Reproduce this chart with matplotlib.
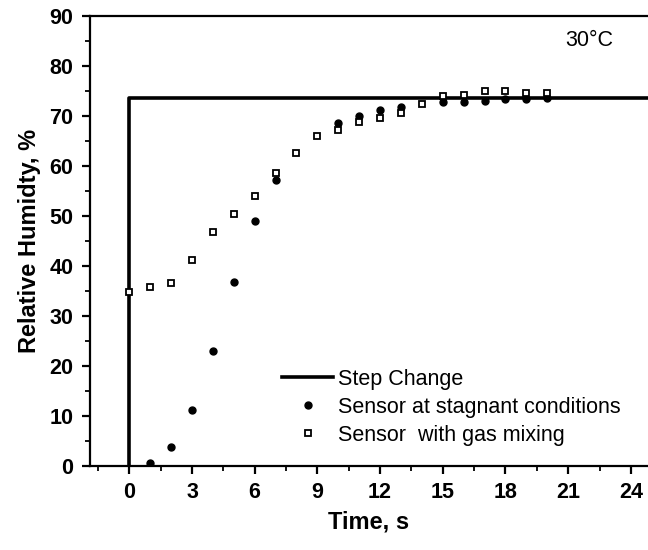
import numpy as np
import matplotlib
matplotlib.use("Agg")
import matplotlib.pyplot as plt
from matplotlib.ticker import MultipleLocator

plt.rcParams['font.family'] = ['Liberation Sans', 'DejaVu Sans']

# Step change input
step_t = [0, 0, 30]
step_rh = [0, 73.5, 73.5]

# Sensor at stagnant conditions (points hidden under other markers left out)
stag_t = [1, 2, 3, 4, 5, 6, 7, 10, 11, 12, 13, 15, 16, 17, 18, 19, 20]
stag_rh = [0.6, 3.8, 11.1, 22.9, 36.7, 49.0, 57.2, 68.5, 70.0, 71.1, 71.8,
           72.7, 72.8, 73.0, 73.3, 73.4, 73.5]

# Sensor with gas mixing
mix_t = [0, 1, 2, 3, 4, 5, 6, 7, 8, 9, 10, 11, 12, 13, 14, 15, 16, 17, 18, 19, 20]
mix_rh = [34.7, 35.7, 36.6, 41.1, 46.8, 50.4, 53.9, 58.5, 62.5, 65.9, 67.1,
          68.7, 69.5, 70.5, 72.4, 74.0, 74.1, 74.9, 74.9, 74.6, 74.6]

x_ticks = [0, 3, 6, 9, 12, 15, 18, 21, 24]
y_ticks = [0, 10, 20, 30, 40, 50, 60, 70, 80, 90]

fig = plt.figure(figsize=(6.48, 5.5), dpi=100)
ax = fig.add_axes([90 / 648, 84.3 / 550, 558 / 648, 450 / 550])

ax.plot(step_t, step_rh, color='black', lw=2.6, label='Step Change')
ax.plot(stag_t, stag_rh, 'o', color='black', ms=5,
        label='Sensor at stagnant conditions')
ax.plot(mix_t, mix_rh, 's', mfc='white', mec='black', mew=1.3, ms=4.5,
        label='Sensor  with gas mixing')

ax.set_xlim(-1.88, 24.82)
ax.set_ylim(0, 90)
ax.set_xticks(x_ticks)
ax.set_yticks(y_ticks)
ax.xaxis.set_minor_locator(MultipleLocator(1.5))
ax.yaxis.set_minor_locator(MultipleLocator(5))

ax.spines['right'].set_visible(False)
for s in ['left', 'top', 'bottom']:
    ax.spines[s].set_linewidth(1.6)

ax.tick_params(which='major', direction='out', length=6, width=1.6,
               labelsize=15.5, pad=6)
ax.tick_params(which='minor', direction='out', length=3.5, width=1.3)
for lab in ax.get_xticklabels() + ax.get_yticklabels():
    lab.set_fontweight('bold')

ax.set_xlabel('Time, s', fontsize=17, fontweight='bold', labelpad=5)
ax.set_ylabel('Relative Humidty, %', fontsize=17, fontweight='bold', labelpad=6)

ax.text(0.8955, 0.946, '30°C', transform=ax.transAxes, fontsize=15.5,
        ha='center', va='center')

ax.legend(loc='upper left', bbox_to_anchor=(0.3435, 0.215), frameon=False,
          fontsize=15.5, handlelength=2.4, handletextpad=0.2, labelspacing=0.32,
          borderpad=0, borderaxespad=0)

fig.savefig('out.png', dpi=100)
